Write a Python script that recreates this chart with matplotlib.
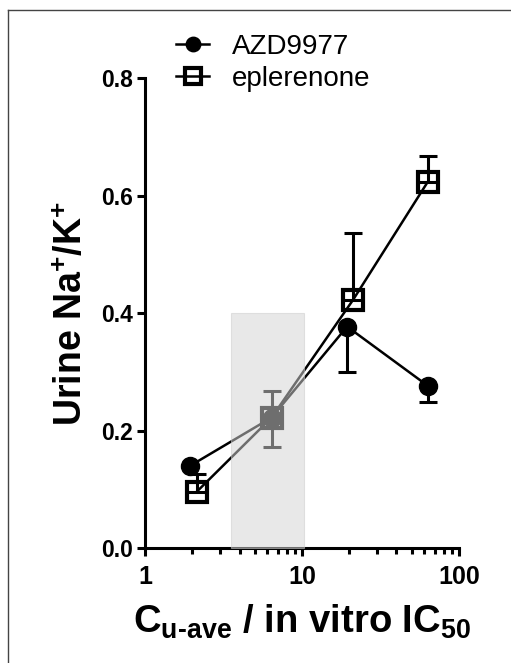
import matplotlib
matplotlib.use("Agg")
import matplotlib.pyplot as plt
from matplotlib.lines import Line2D
from matplotlib.ticker import FixedLocator, LogLocator, NullFormatter

plt.rcParams['font.family'] = ['Liberation Sans', 'DejaVu Sans']
plt.rcParams['mathtext.fontset'] = 'custom'
plt.rcParams['mathtext.rm'] = 'Liberation Sans:bold'
plt.rcParams['mathtext.bf'] = 'Liberation Sans:bold'
plt.rcParams['mathtext.it'] = 'Liberation Sans:bold'
plt.rcParams['mathtext.default'] = 'rm'

# data
azd_x = [1.94, 6.4, 19.4, 63.5]
azd_y = [0.14, 0.222, 0.377, 0.276]
azd_err_low = [0.0, 0.05, 0.077, 0.027]

epl_x = [2.14, 6.4, 21.1, 63.5]
epl_y = [0.096, 0.222, 0.422, 0.624]
epl_err_up = [0.03, 0.045, 0.114, 0.044]

xticks = [1, 10, 100]
xticklabels = ["1", "10", "100"]
yticks = [0.0, 0.2, 0.4, 0.6, 0.8]
yticklabels = ["0.0", "0.2", "0.4", "0.6", "0.8"]

shade_x = (3.53, 10.3)
shade_y = (0.0, 0.4)

fig = plt.figure(figsize=(5.11, 6.63), dpi=100)
ax = fig.add_axes([0.2838, 0.1735, 0.898 - 0.2838, 0.882 - 0.1735])

lw = 1.8
# AZD9977
ax.errorbar(azd_x, azd_y, yerr=[azd_err_low, [0] * len(azd_y)], fmt='none',
            ecolor='black', elinewidth=2.2, capsize=6.5, capthick=2.2, zorder=3)
ax.plot(azd_x, azd_y, color='black', lw=lw, marker='o', markersize=13,
        markerfacecolor='black', markeredgecolor='black', zorder=4, label='AZD9977')
# eplerenone
ax.errorbar(epl_x, epl_y, yerr=[[0] * len(epl_y), epl_err_up], fmt='none',
            ecolor='black', elinewidth=2.2, capsize=6.5, capthick=2.2, zorder=3)
ax.plot(epl_x, epl_y, color='black', lw=lw, marker='s', markersize=14,
        markerfacecolor='none', markeredgecolor='black', markeredgewidth=3,
        zorder=4, label='eplerenone')

# shaded overlay
ax.fill_between(shade_x, shade_y[0], shade_y[1], facecolor=(0.83, 0.83, 0.83),
                alpha=0.52, edgecolor=(0.8, 0.8, 0.8), linewidth=0.8, zorder=10)

ax.set_xscale('log')
ax.set_xlim(1, 100)
ax.set_ylim(0, 0.8)
ax.xaxis.set_major_locator(FixedLocator(xticks))
ax.set_xticklabels(xticklabels)
ax.xaxis.set_minor_locator(LogLocator(base=10, subs=range(2, 10)))
ax.xaxis.set_minor_formatter(NullFormatter())
ax.set_yticks(yticks)
ax.set_yticklabels(yticklabels)

for s in ['top', 'right']:
    ax.spines[s].set_visible(False)
for s in ['left', 'bottom']:
    ax.spines[s].set_linewidth(2.2)

ax.tick_params(axis='both', which='major', direction='out', length=6, width=2.2)
ax.tick_params(axis='x', which='major', labelsize=18, pad=6)
ax.tick_params(axis='y', which='major', labelsize=16.5, pad=3)
ax.tick_params(axis='x', which='minor', direction='out', length=4, width=2.2)
for lab in ax.get_xticklabels() + ax.get_yticklabels():
    lab.set_fontweight('bold')

ax.set_ylabel('Urine Na$^{+}$/K$^{+}$', fontsize=27, fontweight='bold', labelpad=8)
ax.set_xlabel(r'C$_{\text{u-ave}}$ / in vitro IC$_{50}$', fontsize=27.5,
              fontweight='bold', labelpad=10)

leg = ax.legend(loc='upper left', bbox_to_anchor=(176 / 511, 1 - 34 / 663),
                bbox_transform=fig.transFigure, frameon=False, fontsize=20,
                handlelength=1.2, handletextpad=0.8, labelspacing=0.2,
                markerscale=0.8, borderaxespad=0, borderpad=0)

# figure frame (left and top edges)
fig.add_artist(Line2D([8 / 511, 8 / 511], [0, 1 - 10 / 663], transform=fig.transFigure,
                      color='#444444', lw=1.0))
fig.add_artist(Line2D([8 / 511, 1], [1 - 10 / 663, 1 - 10 / 663], transform=fig.transFigure,
                      color='#444444', lw=1.0))

fig.savefig('out.png', dpi=100)
